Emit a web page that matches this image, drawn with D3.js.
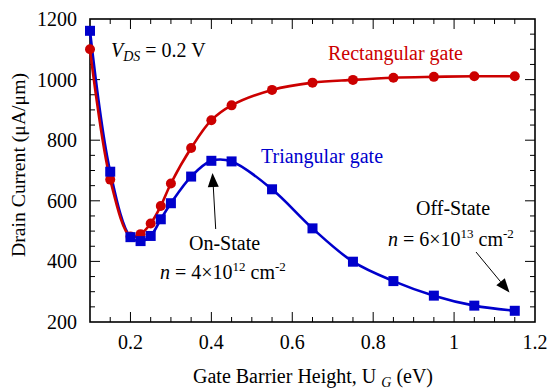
<!DOCTYPE html>
<html>
<head>
<meta charset="utf-8">
<script src="https://cdn.jsdelivr.net/npm/d3@7"></script>
<style>
  body { margin: 0; background: #fff; }
  svg text { font-family: "Liberation Serif", "Times New Roman", serif; }
</style>
</head>
<body>
<svg id="chart" width="549" height="391"></svg>
<script>
// gate barrier height (eV)
var barrier = [0.1, 0.15, 0.2, 0.225, 0.25, 0.275, 0.3, 0.35, 0.4, 0.45, 0.55, 0.65, 0.75, 0.85, 0.95, 1.05, 1.15];
// drain current (uA/um)
var rectGate = [1100, 670, 482, 490, 525, 583, 657, 774, 866, 915, 966, 990, 999, 1006, 1009, 1011, 1011];
var triGate = [1161, 696, 480, 467, 484, 539, 592, 680, 732, 730, 638, 509, 399, 335, 287, 254, 237];
var xTicks = [0.2, 0.4, 0.6, 0.8, 1, 1.2];
var yTicks = [200, 400, 600, 800, 1000, 1200];

var margin = { left: 90, right: 14, top: 19, bottom: 69 },
    width = 549,
    height = 391,
    fs = "20px",
    red = "#cc0000",
    blue = "#0000cc";

var svg = d3.select("#chart");

var x = d3.scaleLinear()
    .domain([0.1, 1.2])
    .range([margin.left, width - margin.right]);
var y = d3.scaleLinear()
    .domain([200, 1200])
    .range([height - margin.bottom, margin.top]);

var x0 = x.range()[0], x1 = x.range()[1],
    y0 = y.range()[0], y1 = y.range()[1];

// minor ticks every 0.05 / 50, majors every 0.2 / 200
var xMinor = d3.range(0.15, 1.2, 0.05).map(function(d) { return +d.toFixed(2); });
var yMinor = d3.range(250, 1200, 50);

var ticks = svg.append("g").attr("stroke", "#000").attr("stroke-width", 1);
xMinor.forEach(function(v) {
    var len = xTicks.indexOf(v) >= 0 ? 10 : 5;
    ticks.append("line").attr("x1", x(v)).attr("x2", x(v)).attr("y1", y0).attr("y2", y0 - len);
    ticks.append("line").attr("x1", x(v)).attr("x2", x(v)).attr("y1", y1).attr("y2", y1 + len);
});
yMinor.forEach(function(v) {
    var len = yTicks.indexOf(v) >= 0 ? 10 : 5;
    ticks.append("line").attr("y1", y(v)).attr("y2", y(v)).attr("x1", x0).attr("x2", x0 + len);
    ticks.append("line").attr("y1", y(v)).attr("y2", y(v)).attr("x1", x1).attr("x2", x1 - len);
});

svg.append("rect")
    .attr("x", x0).attr("y", y1)
    .attr("width", x1 - x0).attr("height", y0 - y1)
    .attr("fill", "none").attr("stroke", "#000").attr("stroke-width", 1.6);

// tick labels
svg.append("g").selectAll("text")
    .data(xTicks)
    .enter().append("text")
    .attr("x", function(d) { return x(d); })
    .attr("y", y0 + 27)
    .attr("text-anchor", "middle")
    .attr("font-size", fs)
    .text(function(d) { return d; });

svg.append("g").selectAll("text")
    .data(yTicks)
    .enter().append("text")
    .attr("x", x0 - 13)
    .attr("y", function(d) { return y(d) + 7; })
    .attr("text-anchor", "end")
    .attr("font-size", fs)
    .text(function(d) { return d; });

// axis titles
var xt = svg.append("text")
    .attr("x", 193)
    .attr("y", 383)
    .attr("font-size", fs);
xt.append("tspan").text("Gate Barrier Height, U ");
xt.append("tspan").attr("font-style", "italic").attr("font-size", "14px").attr("dy", 4).text("G");
xt.append("tspan").attr("dy", -4).text(" (eV)");

svg.append("text")
    .attr("transform", "translate(25,165) rotate(-90)")
    .attr("text-anchor", "middle")
    .attr("font-size", "19px")
    .attr("textLength", 184)
    .attr("lengthAdjust", "spacingAndGlyphs")
    .text("Drain Current (\u03bcA/\u03bcm)");

// curves
var line = d3.line()
    .x(function(d) { return x(d[0]); })
    .y(function(d) { return y(d[1]); })
    .curve(d3.curveCatmullRom.alpha(0.5));

var rectPts = barrier.map(function(b, i) { return [b, rectGate[i]]; });
var triPts = barrier.map(function(b, i) { return [b, triGate[i]]; });

svg.append("path").datum(triPts)
    .attr("d", line).attr("fill", "none").attr("stroke", blue).attr("stroke-width", 2.6);
svg.append("path").datum(rectPts)
    .attr("d", line).attr("fill", "none").attr("stroke", red).attr("stroke-width", 2.6);

svg.append("g").selectAll("circle")
    .data(rectPts)
    .enter().append("circle")
    .attr("cx", function(d) { return x(d[0]); })
    .attr("cy", function(d) { return y(d[1]); })
    .attr("r", 5)
    .attr("fill", red);

svg.append("g").selectAll("rect")
    .data(triPts)
    .enter().append("rect")
    .attr("x", function(d) { return x(d[0]) - 5; })
    .attr("y", function(d) { return y(d[1]) - 5; })
    .attr("width", 10).attr("height", 10)
    .attr("fill", blue);

// labels
var vds = svg.append("text").attr("x", 111).attr("y", 57).attr("font-size", fs);
vds.append("tspan").attr("font-style", "italic").text("V");
vds.append("tspan").attr("font-style", "italic").attr("font-size", "14px").attr("dy", 4).text("DS");
vds.append("tspan").attr("dy", -4).text(" = 0.2 V");

svg.append("text").attr("x", 328).attr("y", 60).attr("font-size", fs)
    .attr("fill", red).text("Rectangular gate");
svg.append("text").attr("x", 261).attr("y", 163).attr("font-size", fs)
    .attr("fill", blue).text("Triangular gate");

svg.append("text").attr("x", 189).attr("y", 250).attr("font-size", fs).text("On-State");
svg.append("text").attr("x", 416).attr("y", 215).attr("font-size", fs).text("Off-State");

function density(xp, yp, mant, exp) {
    var t = svg.append("text").attr("x", xp).attr("y", yp).attr("font-size", fs);
    t.append("tspan").attr("font-style", "italic").text("n");
    t.append("tspan").text(" = " + mant + "\u00d710");
    t.append("tspan").attr("font-size", "13px").attr("dy", -8).text(exp);
    t.append("tspan").attr("dy", 8).text(" cm");
    t.append("tspan").attr("font-size", "13px").attr("dy", -8).text("-2");
}
density(160, 279, 4, "12");
density(388, 246, 6, "13");

// arrows
function arrow(xa, ya, xb, yb) {
    var ang = Math.atan2(yb - ya, xb - xa),
        hl = 14, hw = 5.5;
    var bx = xb - hl * Math.cos(ang), by = yb - hl * Math.sin(ang);
    svg.append("line")
        .attr("x1", xa).attr("y1", ya).attr("x2", bx).attr("y2", by)
        .attr("stroke", "#000").attr("stroke-width", 1);
    svg.append("path")
        .attr("d", "M" + xb + "," + yb +
            "L" + (bx + hw * Math.sin(ang)) + "," + (by - hw * Math.cos(ang)) +
            "L" + (bx - hw * Math.sin(ang)) + "," + (by + hw * Math.cos(ang)) + "Z")
        .attr("fill", "#000");
}
arrow(215.7, 229, 212.5, 173);
arrow(476, 252, 509.5, 292.5);
</script>
</body>
</html>
